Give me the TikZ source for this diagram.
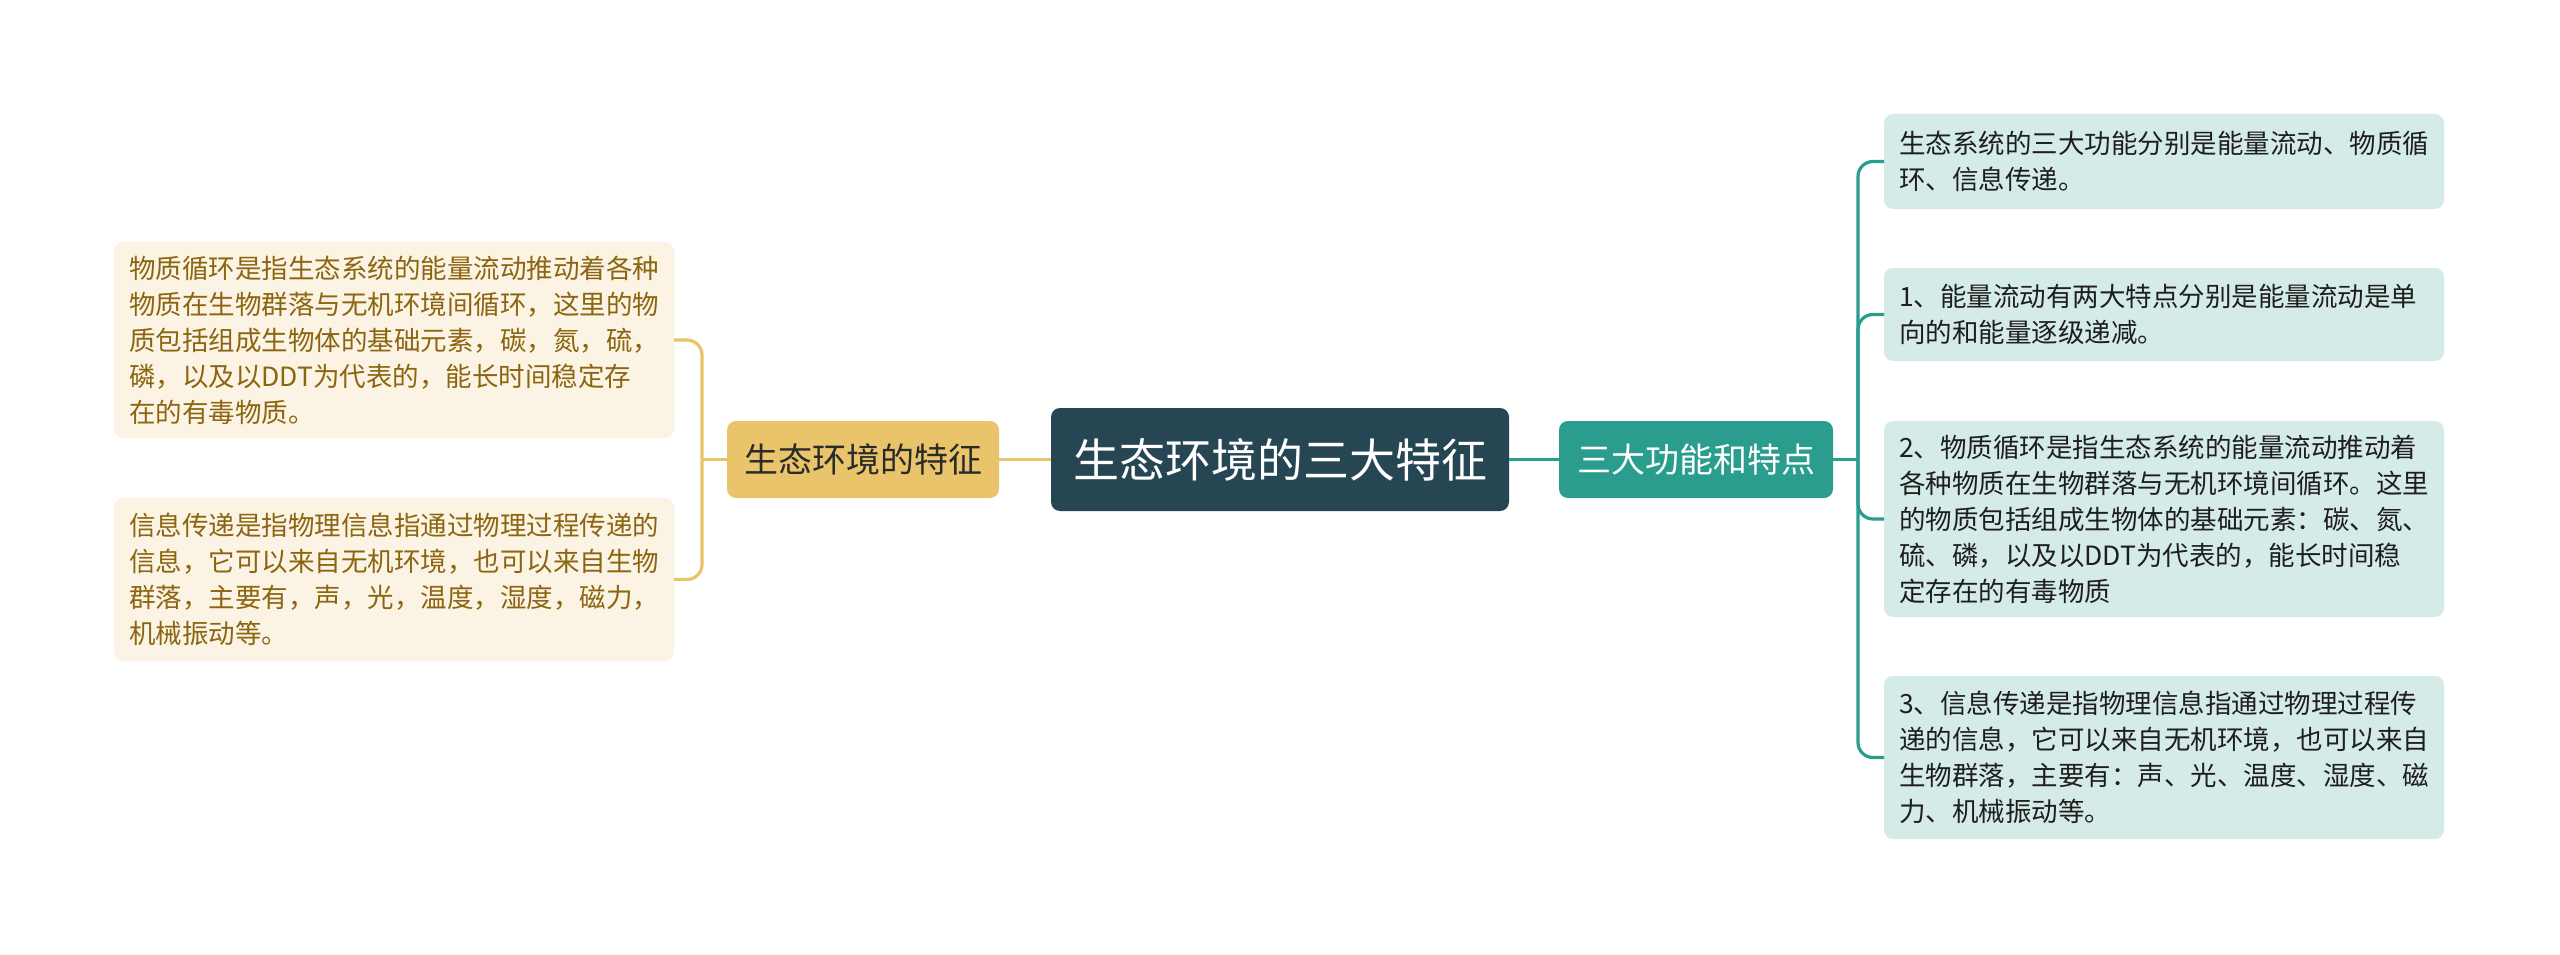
\documentclass[tikz,border=0pt]{standalone}
\usepackage{fontspec}
\setmainfont{Noto Sans CJK SC}
\usetikzlibrary{positioning}
\definecolor{rootc}{HTML}{264653}
\definecolor{goldc}{HTML}{E9C46A}
\definecolor{tealc}{HTML}{2A9D8F}
\definecolor{lleaf}{HTML}{FBF3E3}
\definecolor{lleaftext}{HTML}{8C6510}
\definecolor{rleaf}{HTML}{D5EBE8}
\definecolor{rleaftext}{HTML}{1E1E1E}
\definecolor{maintext}{HTML}{2A2A2A}
\tikzset{
  box/.style={rounded corners=9pt, inner sep=0pt, outer sep=0pt, align=center},
  rootbox/.style={box, fill=rootc, text=white, minimum width=458pt, minimum height=103pt, font=\fontsize{46}{52}\selectfont},
  lmain/.style={box, fill=goldc, text=maintext, minimum width=272pt, minimum height=77pt, font=\fontsize{34}{40}\selectfont},
  rmain/.style={box, fill=tealc, text=white, minimum width=274pt, minimum height=77pt, font=\fontsize{34}{40}\selectfont},
  leafbase/.style={rounded corners=9pt, inner xsep=15pt, inner ysep=0pt, outer sep=0pt, minimum width=560pt, text width=530pt, align=left, font=\fontsize{26.5}{36}\selectfont},
  lleafbox/.style={leafbase, fill=lleaf, text=lleaftext},
  rleafbox/.style={leafbase, fill=rleaf, text=rleaftext},
  glink/.style={draw=goldc, line width=3.2pt},
  tlink/.style={draw=tealc, line width=3.2pt},
}
\begin{document}
\begin{tikzpicture}[x=1pt,y=-1pt]
\useasboundingbox (0,0) rectangle (2560,955);
\fill[white] (0,0) rectangle (2560,955);
% root and main branches
\node[rootbox] (root) at (1280,459.5) {生态环境的三大特征};
\node[lmain] (lm) at (863,459.5) {生态环境的特征};
\node[rmain] (rm) at (1696,459.5) {三大功能和特点};
% left leaves
\node[lleafbox, minimum height=196pt] (l1) at (394,340) {物质循环是指生态系统的能量流动推动着各种\\物质在生物群落与无机环境间循环，这里的物\\质包括组成生物体的基础元素，碳，氮，硫，\\磷，以及以DDT为代表的，能长时间稳定存\\在的有毒物质。};
\node[lleafbox, minimum height=163pt] (l2) at (394,579.5) {信息传递是指物理信息指通过物理过程传递的\\信息，它可以来自无机环境，也可以来自生物\\群落，主要有，声，光，温度，湿度，磁力，\\机械振动等。};
% right leaves
\node[rleafbox, minimum height=95pt] (r1) at (2164,161.5) {生态系统的三大功能分别是能量流动、物质循\\环、信息传递。};
\node[rleafbox, minimum height=93pt] (r2) at (2164,314.5) {1、能量流动有两大特点分别是能量流动是单\\向的和能量逐级递减。};
\node[rleafbox, minimum height=196pt] (r3) at (2164,519) {2、物质循环是指生态系统的能量流动推动着\\各种物质在生物群落与无机环境间循环。这里\\的物质包括组成生物体的基础元素：碳、氮、\\硫、磷，以及以DDT为代表的，能长时间稳\\定存在的有毒物质};
\node[rleafbox, minimum height=163pt] (r4) at (2164,757.5) {3、信息传递是指物理信息指通过物理过程传\\递的信息，它可以来自无机环境，也可以来自\\生物群落，主要有：声、光、温度、湿度、磁\\力、机械振动等。};
% connectors
\coordinate (lbx) at (702,459.5);
\coordinate (rbx) at (1858,459.5);
\draw[glink] (root.west) -- (lm.east);
\draw[tlink] (root.east) -- (rm.west);
\draw[glink] (lm.west) -- (lbx);
\draw[glink, rounded corners=15pt] (lbx) |- (l1.east);
\draw[glink, rounded corners=15pt] (lbx) |- (l2.east);
\draw[tlink] (rm.east) -- (rbx);
\draw[tlink, rounded corners=15pt] (rbx) |- (r1.west);
\draw[tlink, rounded corners=15pt] (rbx) |- (r2.west);
\draw[tlink, rounded corners=15pt] (rbx) |- (r3.west);
\draw[tlink, rounded corners=15pt] (rbx) |- (r4.west);
\end{tikzpicture}
\end{document}
